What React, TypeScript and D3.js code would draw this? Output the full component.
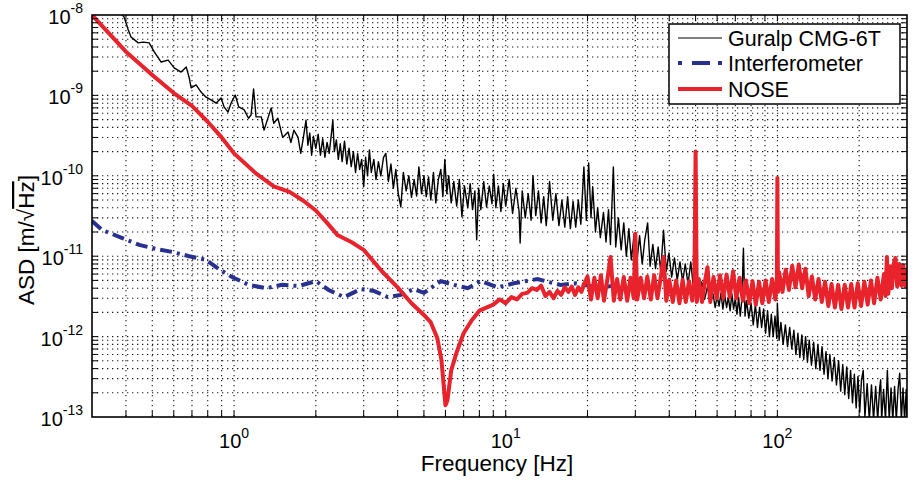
import React from 'react';
import * as d3 from 'd3';

type P = [number, number];

// Guralp CMG-6T seismometer ASD [Hz, m/sqrt(Hz)]
const guralpData: P[] = [
  [0.3, 2.5e-8], [0.35, 1.5e-8], [0.394, 9.4e-9], [0.408, 6.5e-9], [0.418, 5.3e-9], [0.444, 4.5e-9],
  [0.463, 4.6e-9], [0.487, 4.5e-9], [0.508, 3.5e-9], [0.539, 2.6e-9], [0.572, 2.75e-9], [0.602, 2.2e-9],
  [0.638, 1.95e-9], [0.667, 2.25e-9], [0.684, 1.65e-9], [0.695, 1.24e-9], [0.725, 1.35e-9], [0.756, 1.1e-9],
  [0.789, 9.5e-10], [0.823, 8.8e-10], [0.859, 8.0e-10], [0.896, 9.3e-10], [0.919, 7.2e-10], [0.95, 6.2e-10],
  [0.975, 8.0e-10], [1.01, 1.01e-9], [1.04, 7.2e-10], [1.09, 6.6e-10], [1.13, 5.2e-10], [1.155, 5.7e-10],
  [1.18, 1.2e-9], [1.205, 5.4e-10], [1.26, 5.4e-10], [1.29, 3.7e-10], [1.37, 7.0e-10], [1.4, 4.5e-10],
  [1.45, 5.2e-10], [1.51, 3.0e-10], [1.58, 3.5e-10], [1.62, 2.6e-10], [1.66, 3.7e-10], [1.72, 3.0e-10],
  [1.76, 1.9e-10], [1.8, 3.0e-10], [1.84, 4.9e-10], [1.87, 2.4e-10], [1.9, 3.4e-10], [1.93, 1.8e-10],
  [1.96, 3.1e-10], [2.0, 2.2e-10], [2.04, 3.3e-10], [2.08, 1.8e-10], [2.12, 2.9e-10], [2.16, 1.7e-10],
  [2.2, 2.6e-10], [2.24, 1.9e-10], [2.28, 3.2e-10], [2.31, 4.9e-10], [2.34, 2.0e-10], [2.38, 2.8e-10],
  [2.42, 1.6e-10], [2.46, 2.5e-10], [2.5, 1.5e-10], [2.55, 2.7e-10], [2.6, 1.4e-10], [2.65, 2.2e-10],
  [2.7, 1.3e-10], [2.75, 2.0e-10], [2.8, 1.1e-10], [2.85, 1.9e-10], [2.9, 1.2e-10], [2.95, 1.6e-10],
  [3.0, 7.3e-11], [3.05, 1.7e-10], [3.1, 1.0e-10], [3.15, 2.1e-10], [3.2, 1.1e-10], [3.27, 1.6e-10],
  [3.33, 9.0e-11], [3.4, 1.5e-10], [3.47, 1.0e-10], [3.55, 1.7e-10], [3.62, 1.9e-10], [3.7, 8.5e-11],
  [3.78, 1.4e-10], [3.86, 7.0e-11], [3.94, 1.2e-10], [4.02, 6.1e-11], [4.11, 4.1e-11], [4.2, 1.1e-10],
  [4.3, 6.5e-11], [4.4, 1.0e-10], [4.5, 5.4e-11], [4.6, 9.0e-11], [4.7, 5.6e-11], [4.79, 1.29e-10],
  [4.9, 6.0e-11], [5.0, 1.0e-10], [5.1, 5.5e-11], [5.2, 9.7e-11], [5.3, 5.0e-11], [5.42, 1.1e-10],
  [5.53, 4.6e-11], [5.65, 9.0e-11], [5.77, 1.2e-10], [5.87, 5.5e-11], [5.97, 1.6e-10], [6.07, 6.0e-11],
  [6.17, 1.0e-10], [6.3, 4.6e-11], [6.44, 8.5e-11], [6.6, 4.2e-11], [6.75, 9.0e-11], [6.9, 3.1e-11],
  [7.05, 7.5e-11], [7.25, 4.0e-11], [7.4, 8.0e-11], [7.55, 3.8e-11], [7.7, 6.5e-11], [7.82, 1.6e-11],
  [7.95, 7.0e-11], [8.1, 3.8e-11], [8.3, 8.5e-11], [8.5, 4.1e-11], [8.7, 7.5e-11], [8.9, 4.5e-11],
  [9.03, 1.05e-10], [9.2, 4.0e-11], [9.4, 7.5e-11], [9.6, 3.6e-11], [9.8, 8.0e-11], [10.0, 4.2e-11],
  [10.3, 9.0e-11], [10.6, 3.4e-11], [10.9, 7.0e-11], [11.2, 3.6e-11], [11.3, 1.46e-11], [11.5, 6.5e-11],
  [11.8, 3.0e-11], [12.1, 6.0e-11], [12.4, 2.8e-11], [12.6, 1.0e-10], [12.9, 3.2e-11], [13.2, 6.5e-11],
  [13.5, 2.6e-11], [13.8, 5.5e-11], [14.1, 2.4e-11], [14.5, 8.5e-11], [14.9, 2.8e-11], [15.3, 6.0e-11],
  [15.7, 2.4e-11], [16.1, 5.0e-11], [16.5, 2.3e-11], [16.9, 5.5e-11], [17.3, 2.2e-11], [17.7, 4.8e-11],
  [18.1, 2.3e-11], [18.5, 5.0e-11], [18.9, 2.5e-11], [19.4, 1.29e-10], [19.8, 2.8e-11], [20.2, 1.44e-10],
  [20.6, 3.0e-11], [20.9, 7.3e-11], [21.4, 2.0e-11], [21.8, 4.0e-11], [22.3, 1.7e-11], [22.9, 3.5e-11],
  [23.4, 1.5e-11], [23.9, 3.8e-11], [24.3, 1.4e-11], [24.9, 1.29e-10], [25.4, 1.3e-11], [26.0, 3.0e-11],
  [26.6, 1.2e-11], [27.2, 2.6e-11], [27.8, 1.0e-11], [28.4, 2.2e-11], [29.0, 9.0e-12], [29.7, 1.9e-11],
  [30.4, 8.5e-12], [31.1, 1.8e-11], [31.8, 8.0e-12], [32.5, 1.6e-11], [33.3, 2.6e-11], [34.0, 7.5e-12],
  [34.8, 1.4e-11], [35.6, 7.0e-12], [36.4, 1.3e-11], [37.2, 6.5e-12], [38.1, 2.1e-11], [39.0, 6.5e-12],
  [39.9, 1.1e-11], [40.8, 5.5e-12], [41.8, 9.5e-12], [42.8, 5.0e-12], [43.8, 8.5e-12], [44.8, 4.8e-12],
  [45.8, 8.0e-12], [46.9, 4.5e-12], [48.0, 8.5e-12], [49.1, 4.0e-12], [50.3, 6.0e-12], [51.5, 3.2e-12],
  [52.7, 4.8e-12], [54.0, 2.9e-12], [55.3, 4.2e-12], [56.7, 2.6e-12],
  [58, 3.4e-12], [59, 2.3e-12], [60, 3.2e-12], [61, 2.4e-12], [62, 3.5e-12], [63, 2.2e-12],
  [64, 3.3e-12], [65, 2.3e-12], [66, 3.1e-12], [67, 2.1e-12], [68, 3.4e-12], [69, 2.2e-12],
  [70, 3.0e-12], [71, 1.9e-12], [72, 3.1e-12], [73, 1.8e-12], [74, 2.9e-12], [75, 1.26e-11],
  [76, 1.8e-12], [77, 2.8e-12], [78.5, 1.7e-12], [80, 2.6e-12], [81.5, 1.4e-12], [83, 2.5e-12],
  [84.5, 1.3e-12], [86, 2.3e-12], [87.5, 1.3e-12], [89, 2.2e-12], [90.5, 1.1e-12], [92, 2.1e-12],
  [93.5, 1.0e-12], [95, 1.9e-12], [96.5, 1.0e-12], [98, 1.8e-12], [99.5, 9.5e-13], [100, 2.6e-12],
  [101.5, 9.0e-13], [103, 1.5e-12], [105, 8.0e-13], [107, 1.4e-12], [109, 7.5e-13], [111, 1.3e-12],
  [113, 7.0e-13], [115, 1.2e-12], [117, 6.0e-13], [119, 1.1e-12], [121, 5.5e-13], [123, 1.05e-12],
  [125, 5.2e-13], [127, 1.0e-12], [129, 4.8e-13], [131, 9.0e-13], [133.5, 4.4e-13], [136, 8.5e-13],
  [138.5, 4.0e-13], [141, 8.0e-13], [143.5, 3.8e-13], [146, 7.5e-13], [148.5, 3.4e-13], [151, 6.5e-13],
  [153.5, 3.0e-13], [156, 6.0e-13], [159, 2.8e-13], [162, 5.5e-13], [165, 2.5e-13], [168, 5.0e-13],
  [171, 2.1e-13], [174, 4.5e-13], [177, 1.9e-13], [180, 4.2e-13], [183, 1.7e-13], [186, 3.8e-13],
  [189, 1.5e-13], [192, 3.4e-13], [195, 1.3e-13], [198, 3.2e-13], [201, 1.15e-13], [204, 2.9e-13],
  [207, 3.8e-13], [210, 1.0e-13], [214, 2.6e-13], [218, 0.92e-13], [222, 2.5e-13], [226, 0.92e-13],
  [230, 2.4e-13], [234, 0.92e-13], [238, 2.3e-13], [240, 2.9e-13], [242, 0.92e-13], [246, 2.2e-13],
  [250, 0.92e-13], [254, 3.8e-13], [258, 0.92e-13], [262, 2.3e-13], [266, 0.92e-13], [270, 2.4e-13],
  [274, 0.92e-13], [278, 2.2e-13], [282, 3.5e-13], [286, 0.92e-13], [290, 2.3e-13], [294, 0.92e-13],
  [298, 2.2e-13], [300, 0.92e-13],
];

// Interferometer ASD
const interferometerData: P[] = [
  [0.3, 2.74e-11], [0.327, 2.12e-11], [0.388, 1.68e-11], [0.448, 1.38e-11], [0.517, 1.23e-11],
  [0.592, 1.13e-11], [0.684, 1.0e-11], [0.789, 9.0e-12], [0.881, 6.9e-12], [0.983, 5.5e-12],
  [1.135, 4.4e-12], [1.31, 4.0e-12], [1.5, 4.4e-12], [1.73, 4.26e-12], [2.0, 4.9e-12], [2.23, 3.8e-12],
  [2.54, 3.1e-12], [2.93, 3.9e-12], [3.27, 3.7e-12], [3.68, 3.1e-12], [4.11, 3.3e-12], [4.59, 3.9e-12],
  [5.0, 3.5e-12], [5.77, 4.9e-12], [6.44, 4.4e-12], [7.25, 4.0e-12], [8.09, 4.9e-12], [9.35, 4.1e-12],
  [10.7, 4.6e-12], [13.1, 5.2e-12], [14.3, 4.8e-12], [15.9, 4.4e-12], [18.1, 4.6e-12], [20.5, 4.26e-12],
  [22.4, 4.1e-12], [25.0, 4.3e-12],
];

// NOSE ASD
const noseData: P[] = [
  [0.3, 1.0e-8], [0.4, 3.5e-9], [0.5, 1.8e-9], [0.6, 1.07e-9], [0.7, 7.4e-10], [0.8, 4.7e-10],
  [0.9, 3.0e-10], [1.0, 1.9e-10], [1.2, 1.08e-10], [1.4, 7.4e-11], [1.6, 6.3e-11], [1.8, 4.9e-11],
  [2.0, 3.7e-11], [2.2, 2.6e-11], [2.4, 1.84e-11], [2.7, 1.5e-11], [3.0, 1.2e-11], [3.5, 6.5e-12],
  [4.0, 4.1e-12], [4.5, 2.6e-12], [5.0, 1.86e-12], [5.3, 1.5e-12], [5.6, 9.6e-13], [5.8, 5.1e-13],
  [6.0, 1.4e-13], [6.1, 1.6e-13], [6.3, 3.8e-13], [6.6, 6.4e-13], [7.0, 1.1e-12], [7.5, 1.6e-12],
  [8.0, 2.1e-12], [9.0, 2.5e-12], [9.5, 2.9e-12], [10, 2.6e-12], [10.5, 3.1e-12], [11, 2.9e-12],
  [11.5, 3.4e-12], [12, 3.5e-12], [12.5, 4.0e-12], [13, 3.8e-12], [13.5, 4.3e-12], [14, 3.2e-12],
  [14.5, 3.6e-12], [15, 3.0e-12], [15.5, 3.7e-12], [16, 3.3e-12], [16.5, 4.1e-12], [17, 3.6e-12],
  [17.5, 4.2e-12], [18, 3.3e-12], [18.5, 4.1e-12], [19, 3.6e-12], [19.5, 4.6e-12],
  [20, 5.6e-12], [20.6, 2.9e-12], [21.2, 5.4e-12], [21.8, 3.0e-12], [22.4, 5.8e-12], [23, 2.8e-12],
  [23.7, 5.3e-12], [24.3, 9.8e-12], [25, 2.8e-12], [25.7, 5.2e-12], [26.4, 2.9e-12], [27.2, 5.5e-12],
  [28, 2.8e-12], [28.8, 5.4e-12], [29.6, 3.0e-12], [30, 1.9e-11], [30.5, 2.9e-12], [31.4, 5.4e-12],
  [32.3, 3.0e-12], [33.2, 5.6e-12], [34.2, 2.9e-12], [35.2, 5.8e-12], [36.2, 3.0e-12], [37.2, 5.4e-12],
  [38.1, 9.8e-12], [39, 2.8e-12], [40, 5.1e-12], [41.2, 2.7e-12], [42.4, 5.0e-12], [43.6, 2.6e-12],
  [44.8, 5.1e-12], [46, 2.7e-12], [47.3, 4.9e-12], [48.6, 2.8e-12], [49.5, 5.0e-12], [50, 2.0e-10],
  [50.5, 2.7e-12], [51.4, 5.2e-12], [52.8, 2.7e-12], [54.2, 5.0e-12], [55.3, 7.3e-12], [56.6, 2.7e-12],
  [58.2, 5.5e-12], [59.8, 3.0e-12], [61.5, 5.8e-12], [63.2, 3.0e-12], [65, 5.9e-12], [66.8, 3.1e-12],
  [68.7, 6.5e-12], [70.6, 3.0e-12], [72.6, 5.4e-12], [74.6, 2.8e-12], [76.7, 5.0e-12], [78.8, 2.6e-12],
  [81, 4.9e-12], [83.3, 2.5e-12], [85.6, 4.8e-12], [88, 2.6e-12], [90.5, 5.0e-12], [93, 2.7e-12],
  [95.6, 5.2e-12], [98.3, 2.9e-12], [99.6, 5.2e-12], [100, 9.4e-11], [100.5, 3.6e-12], [101.5, 6.3e-12],
  [104.4, 3.6e-12], [107.3, 6.8e-12], [110.3, 3.8e-12], [113.4, 7.6e-12], [116.6, 4.1e-12], [119.9, 7.9e-12],
  [123.3, 4.0e-12], [126.8, 7.0e-12], [130.4, 3.2e-12], [134, 5.6e-12], [137.8, 2.9e-12], [141.7, 5.2e-12],
  [145.7, 2.7e-12], [149.8, 4.8e-12], [154, 2.4e-12], [158.3, 4.5e-12], [162.8, 2.3e-12], [167.4, 4.4e-12],
  [172.1, 2.2e-12], [177, 4.4e-12], [182, 2.3e-12], [187, 4.5e-12], [192.3, 2.3e-12], [197.7, 4.6e-12],
  [203.3, 2.4e-12], [209, 4.8e-12], [215, 2.5e-12], [221, 5.0e-12], [227, 2.6e-12], [233.5, 5.4e-12],
  [240, 2.9e-12], [246.8, 6.0e-12], [250, 3.2e-12], [253, 9.8e-12], [256, 3.4e-12], [260, 7.5e-12],
  [264, 4.0e-12], [268, 8.0e-12], [272, 9.5e-12], [276, 4.2e-12], [281, 8.0e-12], [286, 4.3e-12],
  [291, 7.6e-12], [296, 4.2e-12], [300, 6.5e-12],
];

const xMajorTicks = [1, 10, 100];
const xMajorExponents = ['0', '1', '2'];
const yMajorTicks = [1e-8, 1e-9, 1e-10, 1e-11, 1e-12, 1e-13];
const yMajorExponents = ['-8', '-9', '-10', '-11', '-12', '-13'];
const legendLabels = ['Guralp CMG-6T', 'Interferometer', 'NOSE'];
const seriesColors = ['#000000', '#28318f', '#e8232b'];

const FONT = '"Liberation Sans", Arial, Helvetica, sans-serif';

export default function App() {
  const W = 920;
  const H = 483;
  const left = 92, right = 907, top = 15, bottom = 417;
  const x = d3.scaleLog().domain([0.3, 300]).range([left, right]);
  const y = d3.scaleLog().domain([1e-13, 1e-8]).range([bottom, top]);
  const line = d3.line<P>().x((d) => x(d[0])).y((d) => y(d[1]));

  const xGrid = x.ticks().filter((v) => x(v) > left + 1 && x(v) < right - 1);
  const yGrid = y.ticks().filter((v) => y(v) > top + 1 && y(v) < bottom - 1);
  const tickLen = 6;

  const legendX = 669, legendY = 24, legendW = 231, legendH = 80;
  const rowY = [38, 63, 89];

  return (
    <svg width={W} height={H} style={{ position: 'absolute', left: 0, top: 0 }} fontFamily={FONT}>
      <defs>
        <clipPath id="plotClip">
          <rect x={left} y={top} width={right - left} height={bottom - top} />
        </clipPath>
      </defs>
      <rect x={0} y={0} width={W} height={H} fill="#fff" />

      {/* grid */}
      <g stroke="#000" strokeWidth={1.1} strokeDasharray="1.3,3.7" opacity={0.9}>
        {xGrid.map((v, i) => (
          <line key={'gx' + i} x1={x(v)} x2={x(v)} y1={top} y2={bottom} />
        ))}
        {yGrid.map((v, i) => (
          <line key={'gy' + i} x1={left} x2={right} y1={y(v)} y2={y(v)} />
        ))}
      </g>

      {/* data */}
      <g clipPath="url(#plotClip)" fill="none">
        <path d={line(guralpData) || ''} stroke={seriesColors[0]} strokeWidth={1.4} strokeLinejoin="round" />
        <path d={line(interferometerData) || ''} stroke={seriesColors[1]} strokeWidth={4} strokeDasharray="12,5,3,5" />
        <path d={line(noseData) || ''} stroke={seriesColors[2]} strokeWidth={4} strokeLinejoin="round" strokeLinecap="round" />
      </g>

      {/* ticks */}
      <g stroke="#000" strokeWidth={1}>
        {xGrid.map((v, i) => (
          <g key={'tx' + i}>
            <line x1={x(v)} x2={x(v)} y1={bottom} y2={bottom - tickLen} />
            <line x1={x(v)} x2={x(v)} y1={top} y2={top + tickLen} />
          </g>
        ))}
        {yGrid.map((v, i) => (
          <g key={'ty' + i}>
            <line x1={left} x2={left + tickLen} y1={y(v)} y2={y(v)} />
            <line x1={right} x2={right - tickLen} y1={y(v)} y2={y(v)} />
          </g>
        ))}
      </g>

      {/* frame */}
      <rect x={left} y={top} width={right - left} height={bottom - top} fill="none" stroke="#000" strokeWidth={1.6} />

      {/* x tick labels */}
      {xMajorTicks.map((v, i) => (
        <text key={'xl' + i} x={x(v)} y={bottom + 31} textAnchor="middle" fill="#000">
          <tspan fontSize={20}>10</tspan>
          <tspan fontSize={14} dy={-10}>{xMajorExponents[i]}</tspan>
        </text>
      ))}

      {/* y tick labels */}
      {yMajorTicks.map((v, i) => (
        <text key={'yl' + i} x={83} y={y(v) + 9} textAnchor="end" fill="#000">
          <tspan fontSize={20}>10</tspan>
          <tspan fontSize={14} dy={-11}>{yMajorExponents[i]}</tspan>
        </text>
      ))}

      {/* axis labels */}
      <text x={497} y={471} textAnchor="middle" fontSize={22.5} fill="#000">
        Frequency [Hz]
      </text>
      <text transform="translate(34, 240) rotate(-90)" textAnchor="middle" fontSize={22.5} fill="#000">
        ASD [m/√<tspan style={{ textDecoration: 'overline' }}>Hz</tspan>]
      </text>

      {/* legend */}
      <rect x={legendX} y={legendY} width={legendW} height={legendH} fill="#fff" stroke="#000" strokeWidth={1.5} />
      {legendLabels.map((label, i) => (
        <g key={'lg' + i}>
          <line
            x1={678}
            x2={722}
            y1={rowY[i]}
            y2={rowY[i]}
            stroke={seriesColors[i]}
            strokeWidth={i === 0 ? 1.2 : 4}
            strokeDasharray={i === 1 ? '4,10,18,8,4,100' : undefined}
          />
          <text x={728} y={rowY[i] + 8} fontSize={21.5} fill="#000">
            {label}
          </text>
        </g>
      ))}
    </svg>
  );
}
